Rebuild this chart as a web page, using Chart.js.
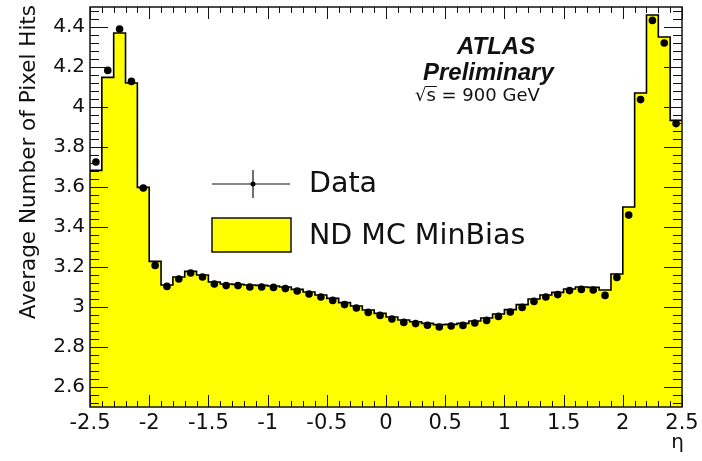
<!DOCTYPE html>
<html>
<head>
<meta charset="utf-8">
<title>Average Number of Pixel Hits vs eta</title>
<script src="https://cdn.jsdelivr.net/npm/chart.js@4.4.1/dist/chart.umd.min.js"></script>
<style>
  body { margin: 0; background: #fff; }
  #wrap { width: 702px; height: 461px; }
</style>
</head>
<body>
<div id="wrap"><canvas id="pixelChart" width="702" height="461"></canvas></div>
<script>
// eta bin centres (bins are 0.1 wide)
const etaBins = [
  -2.45, -2.35, -2.25, -2.15, -2.05, -1.95, -1.85, -1.75, -1.65, -1.55,
  -1.45, -1.35, -1.25, -1.15, -1.05, -0.95, -0.85, -0.75, -0.65, -0.55,
  -0.45, -0.35, -0.25, -0.15, -0.05, 0.05, 0.15, 0.25, 0.35, 0.45,
  0.55, 0.65, 0.75, 0.85, 0.95, 1.05, 1.15, 1.25, 1.35, 1.45,
  1.55, 1.65, 1.75, 1.85, 1.95, 2.05, 2.15, 2.25, 2.35, 2.45
];

// Data points (900 GeV)
const dataHits = [
  3.725, 4.183, 4.390, 4.128, 3.595, 3.208, 3.103, 3.140, 3.170, 3.150,
  3.115, 3.107, 3.107, 3.100, 3.100, 3.098, 3.092, 3.080, 3.065, 3.050,
  3.033, 3.012, 2.995, 2.973, 2.958, 2.940, 2.923, 2.917, 2.909, 2.900,
  2.905, 2.908, 2.920, 2.933, 2.953, 2.975, 2.998, 3.028, 3.050, 3.062,
  3.082, 3.088, 3.085, 3.058, 3.148, 3.460, 4.037, 4.433, 4.320, 3.917
];

// ND MC MinBias histogram
const mcHits = [
  3.683, 4.148, 4.370, 4.120, 3.598, 3.228, 3.110, 3.150, 3.178, 3.160,
  3.125, 3.115, 3.113, 3.110, 3.108, 3.105, 3.100, 3.088, 3.075, 3.060,
  3.043, 3.022, 3.005, 2.985, 2.968, 2.950, 2.935, 2.926, 2.918, 2.912,
  2.913, 2.918, 2.930, 2.945, 2.965, 2.987, 3.012, 3.040, 3.060, 3.073,
  3.090, 3.100, 3.098, 3.085, 3.165, 3.500, 4.070, 4.460, 4.350, 3.933
];

const xTickValues = [-2.5, -2, -1.5, -1, -0.5, 0, 0.5, 1, 1.5, 2, 2.5];
const yTickValues = [2.6, 2.8, 3, 3.2, 3.4, 3.6, 3.8, 4, 4.2, 4.4];

const FONT = "'DejaVu Sans', Verdana, sans-serif";
const ATLAS_FONT = "'Liberation Sans', Arial, Helvetica, sans-serif";
const halfBin = 0.05;

// histogram outline: one point per left bin edge, plus the closing edge
const mcSteps = etaBins.map((c, i) => ({ x: c - halfBin, y: mcHits[i] }));
mcSteps.push({ x: etaBins[etaBins.length - 1] + halfBin, y: mcHits[mcHits.length - 1] });

const dataPoints = etaBins.map((c, i) => ({ x: c, y: dataHits[i] }));

// ROOT-style frame, inner ticks, legend and labels
const rootDecor = {
  id: 'rootDecor',
  afterDraw(chart) {
    const { ctx, chartArea: a, scales: { x, y } } = chart;
    const seg = (x1, y1, x2, y2) => {
      ctx.beginPath(); ctx.moveTo(x1, y1); ctx.lineTo(x2, y2); ctx.stroke();
    };
    ctx.save();
    ctx.strokeStyle = '#111';
    ctx.lineWidth = 1;

    // x ticks (bottom and top), minor every 0.1
    for (let i = 0; i <= 50; i++) {
      const px = Math.round(x.getPixelForValue(-2.5 + i * 0.1)) + 0.5;
      const len = i % 5 === 0 ? 12 : 6;
      seg(px, a.bottom, px, a.bottom - len);
      seg(px, a.top, px, a.top + len);
    }
    // y ticks (left and right), minor every 0.04
    for (let i = 0; i < 50; i++) {
      const py = Math.round(y.getPixelForValue(2.52 + i * 0.04)) + 0.5;
      const len = (i - 2) % 5 === 0 ? 18 : 9;
      seg(a.left, py, a.left + len, py);
      seg(a.right, py, a.right - len, py);
    }

    ctx.lineWidth = 1.5;
    ctx.strokeRect(a.left, a.top, a.right - a.left, a.bottom - a.top);

    // legend
    ctx.fillStyle = '#000';
    ctx.lineWidth = 1.2;
    seg(212, 184, 290, 184);
    seg(253, 170, 253, 198);
    ctx.beginPath(); ctx.arc(253, 184, 2.5, 0, Math.PI * 2); ctx.fill();
    ctx.fillStyle = '#ffff00';
    ctx.fillRect(212, 218, 79, 34);
    ctx.lineWidth = 1.5;
    ctx.strokeRect(212, 218, 79, 34);

    ctx.fillStyle = '#111';
    ctx.textBaseline = 'middle';
    ctx.textAlign = 'left';
    ctx.font = `28.5px ${FONT}`;
    ctx.fillText('Data', 309, 185);
    ctx.fillText('ND MC MinBias', 309, 237);

    // ATLAS label
    ctx.font = `italic bold 24px ${ATLAS_FONT}`;
    ctx.fillText('ATLAS', 457, 47);
    ctx.fillText('Preliminary', 423, 73);
    ctx.font = `18px ${FONT}`;
    ctx.fillText('\u221As = 900 GeV', 415, 96);
    const w1 = ctx.measureText('\u221A').width;
    const w2 = ctx.measureText('\u221As').width;
    ctx.lineWidth = 1;
    seg(415 + w1 - 1, 86.5, 415 + w2 + 1, 86.5);

    // axis titles
    ctx.font = `20px ${FONT}`;
    ctx.textAlign = 'right';
    ctx.fillText('\u03B7', 684, 443);
    ctx.font = `21.5px ${FONT}`;
    ctx.translate(29, 5);
    ctx.rotate(-Math.PI / 2);
    ctx.fillText('Average Number of Pixel Hits', 0, 0);
    ctx.restore();
  }
};

function initializePixelChart() {
  const ctx = document.getElementById('pixelChart').getContext('2d');
  new Chart(ctx, {
    type: 'scatter',
    data: {
      datasets: [
        {
          label: 'Data',
          type: 'scatter',
          data: dataPoints,
          pointRadius: 3.8,
          pointBackgroundColor: '#000',
          pointBorderWidth: 0
        },
        {
          label: 'ND MC MinBias',
          type: 'line',
          data: mcSteps,
          stepped: 'before',
          fill: 'start',
          backgroundColor: '#ffff00',
          borderColor: '#000',
          borderWidth: 1.6,
          pointRadius: 0
        }
      ]
    },
    options: {
      responsive: false,
      animation: false,
      devicePixelRatio: 1,
      layout: { padding: { top: 7, right: 20, left: 0, bottom: 0 } },
      plugins: { legend: { display: false }, tooltip: { enabled: false } },
      scales: {
        x: {
          type: 'linear',
          min: -2.5,
          max: 2.5,
          grid: { display: false, drawTicks: false },
          border: { display: false },
          afterBuildTicks: scale => { scale.ticks = xTickValues.map(v => ({ value: v })); },
          afterFit: scale => { scale.height = 54; scale.paddingLeft = 0; scale.paddingRight = 0; },
          ticks: {
            autoSkip: false,
            maxRotation: 0,
            padding: 4,
            color: '#111',
            font: { family: FONT, size: 21 },
            callback: v => String(+v.toFixed(1))
          }
        },
        y: {
          min: 2.5,
          max: 4.5,
          grid: { display: false, drawTicks: false },
          border: { display: false },
          afterBuildTicks: scale => { scale.ticks = yTickValues.map(v => ({ value: v })); },
          afterFit: scale => { scale.width = 90; scale.paddingTop = 0; scale.paddingBottom = 0; },
          ticks: {
            padding: 5,
            color: '#111',
            font: { family: FONT, size: 20 },
            callback: v => String(+v.toFixed(1))
          }
        }
      }
    },
    plugins: [rootDecor]
  });
}

document.addEventListener('DOMContentLoaded', initializePixelChart);
</script>
</body>
</html>
